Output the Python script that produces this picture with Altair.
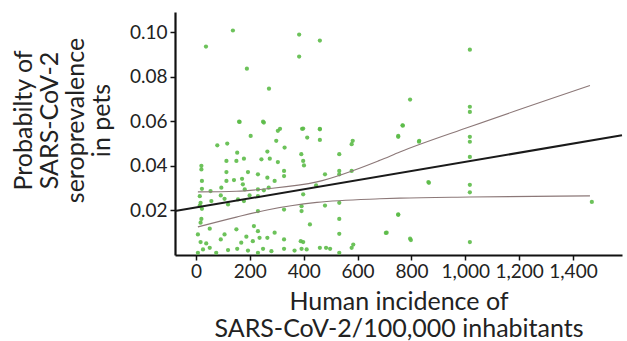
import altair as alt
import pandas as pd

# scatter points: human incidence (per 100,000) and pet seroprevalence probability
incidence = [37, 137, 189, 271, 383, 383, 460, 160, 249, 312, 394, 460,
             162, 252, 203, 304, 79, 116, 298, 329, 153, 265, 113, 150, 178, 243, 274, 304, 391,
             20, 20, 113, 193, 230, 327, 327, 22, 113, 141, 171, 174, 265, 292,
             22, 54, 94, 181, 230, 252, 270, 14, 57, 92, 106, 156, 199, 230, 17, 14, 119, 178,
             230, 327, 22, 20, 17, 51, 150, 215, 7, 106, 187, 230, 292, 236, 265,
             17, 38, 92, 168, 211, 327, 389, 26, 51, 119, 153, 193, 249, 280, 327, 366, 7, 75, 230,
             398, 413, 460, 460, 582, 578, 767, 751, 829, 532, 398, 401, 479, 532, 532, 578, 446,
             398, 863, 392, 479, 532, 392, 751, 532, 423, 532, 708, 795, 398, 392, 411, 460, 483,
             498, 584, 578, 532,
             1017, 795, 1017, 1017, 768, 751, 828, 1017, 1017, 1017, 865, 1017, 1017, 1470, 751,
             705, 798, 1017]
probability = [0.0935, 0.1007, 0.0836, 0.0746, 0.0989, 0.089, 0.0962, 0.0598, 0.0598, 0.0566, 0.0566, 0.0566,
               0.0597, 0.0594, 0.0534, 0.0557, 0.0492, 0.05, 0.0512, 0.0482, 0.0459, 0.0464, 0.0422, 0.0422, 0.0432, 0.0429, 0.0432, 0.0417, 0.0452,
               0.04, 0.0384, 0.0372, 0.0372, 0.0362, 0.0377, 0.0354, 0.0332, 0.0332, 0.0336, 0.0342, 0.0317, 0.0347, 0.0332,
               0.0297, 0.0287, 0.0302, 0.0294, 0.0294, 0.029, 0.0302, 0.0264, 0.0242, 0.0267, 0.0252, 0.0249, 0.0267, 0.0264, 0.0234, 0.0222, 0.0227, 0.0242,
               0.0197, 0.0204, 0.0207, 0.0162, 0.0145, 0.0118, 0.0115, 0.013, 0.0092, 0.0092, 0.0082, 0.0107, 0.01, 0.0077, 0.0077,
               0.0058, 0.0052, 0.007, 0.0055, 0.0062, 0.007, 0.0062, 0.0025, 0.0032, 0.0022, 0.0028, 0.002, 0.0028, 0.0017, 0.0028, 0.002, 0.001, 0.001, 0.001,
               0.0567, 0.0527, 0.0564, 0.0516, 0.0512, 0.0497, 0.0582, 0.0534, 0.0512, 0.0452, 0.0422, 0.0402, 0.0362, 0.0377, 0.0362, 0.0377, 0.0312,
               0.0272, 0.0327, 0.0219, 0.0222, 0.0234, 0.0197, 0.0182, 0.0162, 0.0137, 0.0095, 0.01, 0.0073, 0.0058, 0.0028, 0.0025, 0.0032, 0.0032,
               0.0028, 0.0047, 0.0032, 0.001,
               0.0921, 0.0697, 0.0665, 0.0642, 0.058, 0.053, 0.0508, 0.053, 0.0508, 0.044, 0.0324, 0.0315, 0.0281, 0.0238, 0.018,
               0.0099, 0.0067, 0.0058]

# fitted regression line
fit_x = [-78, 1582]
fit_y = [0.0197, 0.0537]

# confidence band edges
ci_x = [7, 150, 264, 449, 683, 757, 1017, 1463]
ci_upper = [0.0283, 0.0286, 0.0297, 0.0328, 0.0425, 0.0462, 0.0575, 0.076]
ci_lower = [0.0126, 0.0170, 0.0202, 0.0236, 0.0252, 0.0255, 0.026, 0.0265]

x_ticks = [0, 200, 400, 600, 800, 1000, 1200, 1400]
y_ticks = [0.02, 0.04, 0.06, 0.08, 0.10]

pts = pd.DataFrame({"x": incidence, "y": probability})
fit = pd.DataFrame({"x": fit_x, "y": fit_y})
ci = pd.DataFrame({"x": ci_x * 2, "y": ci_upper + ci_lower,
                   "band": ["upper"] * len(ci_x) + ["lower"] * len(ci_x)})

xscale = alt.Scale(domain=[-78, 1582], nice=False, zero=False)
yscale = alt.Scale(domain=[0, 0.109], nice=False, zero=False)

xaxis = alt.Axis(values=x_ticks, format=",d", title=["Human incidence of", "SARS-CoV-2/100,000 inhabitants"],
                 titleY=34, titleBaseline="top", titleLineHeight=27, titleFontSize=25,
                 labelPadding=2)
yaxis = alt.Axis(values=y_ticks, format=".2f",
                 title=["Probabilty of", "SARS-CoV-2", "seroprevalence", "in pets"],
                 titleX=-164, titleY=108, titleAngle=270, titleBaseline="top", titleAlign="center",
                 titleLineHeight=26, titleFontSize=25, labelPadding=3)

points = alt.Chart(pts).mark_circle(size=18, color="#5cbb48", opacity=0.9).encode(
    x=alt.X("x:Q", scale=xscale, axis=xaxis),
    y=alt.Y("y:Q", scale=yscale, axis=yaxis),
)

ci_lines = alt.Chart(ci).mark_line(color="#8c7878", strokeWidth=1.1, interpolate="monotone").encode(
    x=alt.X("x:Q", scale=xscale, axis=xaxis),
    y=alt.Y("y:Q", scale=yscale, axis=yaxis),
    detail="band:N",
)

fit_line = alt.Chart(fit).mark_line(color="#1a1a1a", strokeWidth=2).encode(
    x=alt.X("x:Q", scale=xscale, axis=xaxis),
    y=alt.Y("y:Q", scale=yscale, axis=yaxis),
)

chart = alt.layer(points, ci_lines, fit_line).properties(
    width=447, height=243,
    background="white",
    autosize=alt.AutoSizeParams(type="none"),
    padding={"left": 175, "top": 12, "right": 5, "bottom": 86},
).configure_view(stroke=None).configure_axis(
    grid=False, domainColor="#111", domainWidth=2.2, tickColor="#111", tickWidth=1.5, tickSize=5,
    labelFont="Lato", labelFontSize=19, labelColor="#222",
    titleFont="Lato", titleFontWeight="normal", titleColor="#222",
)

chart.save("out.html", embed_options={"renderer": "svg", "actions": False})
